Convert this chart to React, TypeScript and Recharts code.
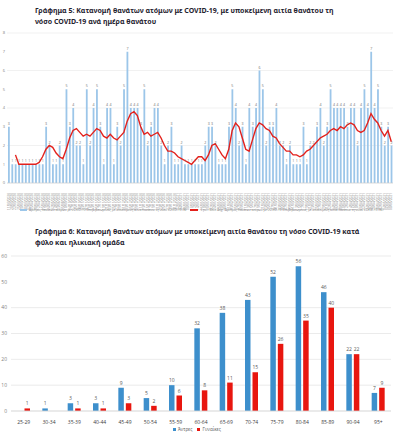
import {
  ComposedChart,
  BarChart,
  Bar,
  Line,
  XAxis,
  YAxis,
  CartesianGrid,
  LabelList,
} from 'recharts'

// Γράφημα 5: ημερομηνίες θανάτου (μόνο ημέρες με θανάτους)
const dates = [
  '11/03/2020', '20/03/2020', '22/03/2020', '25/03/2020', '28/03/2020', '30/03/2020', '02/04/2020', '05/04/2020', '08/04/2020', '12/04/2020',
  '15/04/2020', '19/04/2020', '24/04/2020', '02/05/2020', '14/05/2020', '23/06/2020', '05/08/2020', '18/09/2020', '04/10/2020', '17/10/2020',
  '25/10/2020', '30/10/2020', '03/11/2020', '07/11/2020', '10/11/2020', '13/11/2020', '15/11/2020', '17/11/2020', '19/11/2020', '21/11/2020',
  '23/11/2020', '25/11/2020', '27/11/2020', '29/11/2020', '01/12/2020', '03/12/2020', '05/12/2020', '07/12/2020', '09/12/2020', '11/12/2020',
  '13/12/2020', '15/12/2020', '17/12/2020', '19/12/2020', '21/12/2020', '23/12/2020', '25/12/2020', '27/12/2020', '29/12/2020', '31/12/2020',
  '02/01/2021', '04/01/2021', '06/01/2021', '08/01/2021', '10/01/2021', '12/01/2021', '14/01/2021', '16/01/2021', '18/01/2021', '20/01/2021',
  '22/01/2021', '24/01/2021', '26/01/2021', '28/01/2021', '30/01/2021', '01/02/2021', '03/02/2021', '05/02/2021', '07/02/2021', '09/02/2021',
  '11/02/2021', '13/02/2021', '15/02/2021', '17/02/2021', '19/02/2021', '21/02/2021', '23/02/2021', '25/02/2021', '27/02/2021', '01/03/2021',
  '03/03/2021', '05/03/2021', '07/03/2021', '09/03/2021', '11/03/2021', '13/03/2021', '15/03/2021', '17/03/2021', '19/03/2021', '21/03/2021',
  '23/03/2021', '25/03/2021', '27/03/2021', '29/03/2021', '31/03/2021', '02/04/2021', '04/04/2021', '06/04/2021', '08/04/2021', '10/04/2021',
  '12/04/2021', '14/04/2021', '16/04/2021', '18/04/2021', '20/04/2021', '22/04/2021', '24/04/2021', '26/04/2021', '28/04/2021', '30/04/2021',
  '02/05/2021', '04/05/2021', '06/05/2021', '08/05/2021',
]

const dailyDeaths = [
  3, 1, 1, 1, 1, 1, 1, 1, 1, 1,
  1, 3, 2, 1, 1, 2, 1, 5, 3, 4,
  2, 2, 1, 5, 2, 4, 5, 3, 1, 4,
  4, 1, 3, 2, 5, 7, 4, 4, 4, 3,
  5, 2, 3, 4, 4, 2, 1, 2, 3, 1,
  1, 2, 1, 1, 1, 1, 1, 1, 2, 3,
  3, 2, 1, 1, 1, 3, 5, 4, 2, 3,
  1, 4, 3, 4, 6, 5, 2, 3, 3, 4,
  2, 2, 1, 2, 1, 1, 1, 3, 1, 2,
  2, 3, 4, 2, 3, 5, 4, 4, 4, 4,
  3, 4, 4, 2, 4, 5, 4, 7, 4, 5,
  3, 2, 3, 2,
]

// κινητός μέσος όρος 3 περιόδων (όπως διαβάζεται στο γράφημα)
const movingAvg = [
  null, null, 1.5, 1.0, 1.0, 1.0, 1.0, 1.0, 1.0, 1.1,
  1.4, 1.8, 2.0, 1.9, 1.6, 1.4, 1.3, 1.8, 2.4, 2.8,
  2.9, 2.7, 2.5, 2.6, 2.5, 2.7, 2.9, 2.8, 2.5, 2.4,
  2.6, 2.4, 2.3, 2.5, 2.7, 3.3, 3.7, 3.8, 3.6, 3.0,
  2.6, 2.7, 2.5, 2.6, 2.7, 2.4, 2.0, 1.7, 1.7, 1.6,
  1.4, 1.3, 1.2, 1.1, 1.0, 1.2, 1.4, 1.4, 1.2, 1.5,
  2.0, 2.1, 1.8, 1.5, 1.3, 1.8, 2.8, 3.2, 3.0, 2.4,
  1.8, 1.7, 2.3, 2.9, 3.2, 3.1, 2.9, 2.8, 2.5, 2.4,
  2.1, 1.9, 1.7, 1.7, 1.5, 1.5, 1.4, 1.5, 1.7, 1.8,
  2.0, 2.2, 2.4, 2.5, 2.6, 2.8, 2.9, 2.8, 3.0, 2.9,
  3.1, 3.2, 3.1, 2.8, 2.7, 2.8, 3.2, 3.7, 3.4, 3.2,
  2.8, 2.5, 2.8, 2.2,
]

const dailyTicks = [0, 1, 2, 3, 4, 5, 6, 7, 8]

// Γράφημα 6: φύλο και ηλικιακή ομάδα
const ageGroups = [
  '25-29', '30-34', '35-39', '40-44', '45-49', '50-54', '55-59', '60-64',
  '65-69', '70-74', '75-79', '80-84', '85-89', '90-94', '95+',
]
const men = [null, 1, 3, 3, 9, 5, 10, 32, 38, 43, 52, 56, 46, 22, 7]
const women = [1, null, 1, 1, 3, 2, 6, 8, 11, 15, 26, 35, 40, 22, 9]
const ageTicks = [0, 10, 20, 30, 40, 50, 60]

const dailyData = dates.map((d, i) => ({ date: d, deaths: dailyDeaths[i], avg: movingAvg[i] }))
const ageData = ageGroups.map((g, i) => ({ group: g, men: men[i], women: women[i] }))

const FONT = '"Open Sans", "Noto Sans", sans-serif'
const BLUE_LIGHT = '#9cc6e9'
const RED = '#e3211c'
const BLUE = '#3d8fcc'
const RED_BAR = '#e8160f'

const DateTick = (props: any) => {
  const { x, y, payload } = props
  return (
    <text
      x={x}
      y={y + 2}
      transform={`rotate(-90, ${x}, ${y + 2})`}
      textAnchor="end"
      dominantBaseline="central"
      fontSize={3.2}
      fill="#7f7f7f"
      fontFamily={FONT}
    >
      {payload.value}
    </text>
  )
}

const titleStyle: React.CSSProperties = {
  position: 'absolute',
  left: 35,
  fontFamily: '"Noto Sans", sans-serif',
  fontWeight: 700,
  fontSize: 7,
  lineHeight: '11px',
  color: '#1f2330',
  whiteSpace: 'nowrap',
}

const swatch = (color: string, w: number, h: number): React.CSSProperties => ({
  display: 'inline-block',
  width: w,
  height: h,
  background: color,
  marginRight: 2,
})

export default function App() {
  return (
    <div style={{ position: 'absolute', left: 0, top: 0, width: 398, height: 436, background: '#fff', overflow: 'hidden' }}>
      <div style={{ ...titleStyle, top: 5 }}>
        Γράφημα 5: Κατανομή θανάτων ατόμων με COVID-19, με υποκείμενη αιτία θανάτου τη
        <br />
        νόσο COVID-19 ανά ημέρα θανάτου
      </div>

      <div style={{ position: 'absolute', left: 0, top: 28 }}>
        <ComposedChart
          width={398}
          height={186}
          data={dailyData}
          margin={{ top: 5, right: 5, bottom: 0, left: 1 }}
          barCategoryGap={1}
        >
          <CartesianGrid vertical={false} stroke="#e8e8e8" strokeWidth={0.6} />
          <XAxis
            dataKey="date"
            interval={0}
            height={31}
            tick={<DateTick />}
            tickLine={false}
            axisLine={{ stroke: '#d0d0d0', strokeWidth: 0.6 }}
          />
          <YAxis
            width={6}
            domain={[0, 8]}
            ticks={dailyTicks}
            axisLine={false}
            tickLine={false}
            tickSize={0}
            tickMargin={2}
            tick={{ fontSize: 4, fill: '#7f7f7f', fontFamily: FONT }}
          />
          <Bar dataKey="deaths" fill={BLUE_LIGHT} barSize={1.8} isAnimationActive={false}>
            <LabelList dataKey="deaths" position="top" offset={2} fontSize={3.6} fill="#6f6f6f" fontFamily={FONT} />
          </Bar>
          <Line
            dataKey="avg"
            type="linear"
            stroke={RED}
            strokeWidth={1.4}
            dot={false}
            connectNulls
            isAnimationActive={false}
          />
        </ComposedChart>
      </div>

      <div
        style={{
          position: 'absolute',
          left: 20,
          top: 208,
          fontFamily: FONT,
          fontSize: 3.1,
          color: '#7f7f7f',
          whiteSpace: 'nowrap',
          display: 'flex',
          alignItems: 'center',
        }}
      >
        <span style={swatch(BLUE_LIGHT, 7, 2)} />
        <span style={{ marginRight: 4 }}>
          Αριθμός θανάτων ατόμων με COVID-19 (Επιβεβαιωμένα), με υποκείμενη αιτία θανάτου τη νόσο COVID-19 (Ν)
        </span>
        <span style={swatch(RED, 8, 2)} />
        <span>
          3 per. Mov. Avg. (Αριθμός θανάτων ατόμων με COVID-19 (Επιβεβαιωμένα), με υποκείμενη αιτία θανάτου τη νόσο COVID-19 (Ν))
        </span>
      </div>

      <div style={{ ...titleStyle, top: 226 }}>
        Γράφημα 6: Κατανομή θανάτων ατόμων με υποκείμενη αιτία θανάτου τη νόσο COVID-19 κατά
        <br />
        φύλο και ηλικιακή ομάδα
      </div>

      <div style={{ position: 'absolute', left: 0, top: 250 }}>
        <BarChart
          width={398}
          height={175}
          data={ageData}
          margin={{ top: 6, right: 7, bottom: 0, left: 0 }}
          barGap={2}
        >
          <CartesianGrid vertical={false} stroke="#e6e6e6" strokeWidth={0.8} />
          <XAxis
            dataKey="group"
            interval={0}
            height={14}
            tickLine={false}
            axisLine={{ stroke: '#d9d9d9', strokeWidth: 0.8 }}
            tick={{ fontSize: 5, fill: '#404040', fontFamily: FONT }}
            tickMargin={3}
          />
          <YAxis
            width={11}
            domain={[0, 60]}
            ticks={ageTicks}
            axisLine={false}
            tickLine={false}
            tickSize={0}
            tickMargin={4}
            tick={{ fontSize: 5, fill: '#7f7f7f', fontFamily: FONT }}
          />
          <Bar dataKey="men" name="Άντρες" fill={BLUE} barSize={5.5} isAnimationActive={false}>
            <LabelList dataKey="men" position="top" offset={3} fontSize={5} fill="#595959" fontFamily={FONT} />
          </Bar>
          <Bar dataKey="women" name="Γυναίκες" fill={RED_BAR} barSize={5.5} isAnimationActive={false}>
            <LabelList dataKey="women" position="top" offset={3} fontSize={5} fill="#595959" fontFamily={FONT} />
          </Bar>
        </BarChart>
      </div>

      <div
        style={{
          position: 'absolute',
          left: 173,
          top: 426,
          fontFamily: FONT,
          fontSize: 4.5,
          color: '#595959',
          whiteSpace: 'nowrap',
          display: 'flex',
          alignItems: 'center',
        }}
      >
        <span style={swatch(BLUE, 3, 3)} />
        <span style={{ marginRight: 5 }}>Άντρες</span>
        <span style={swatch(RED_BAR, 3, 3)} />
        <span>Γυναίκες</span>
      </div>
    </div>
  )
}
